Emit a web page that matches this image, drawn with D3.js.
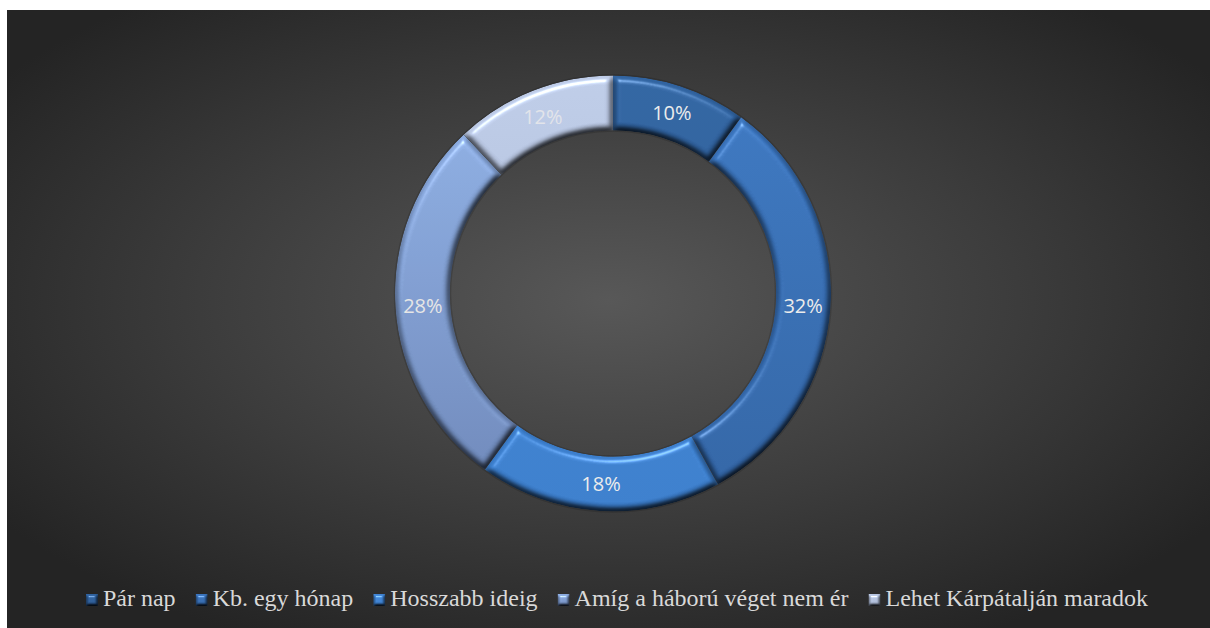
<!DOCTYPE html>
<html>
<head>
<meta charset="utf-8">
<script src="https://cdn.jsdelivr.net/npm/d3@7"></script>
<style>
  body { margin:0; background:#fff; }
  svg { display:block; }
</style>
</head>
<body>
<div id="chart"></div>
<script>
// adatok
var kategoriak = ["Pár nap", "Kb. egy hónap", "Hosszabb ideig", "Amíg a háború véget nem ér", "Lehet Kárpátalján maradok"]
var ertekek = [10, 32, 18, 28, 12]
var cimkek = ["10%", "32%", "18%", "28%", "12%"]

// szinek (felső / alsó árnyalat)
var szinFent = ["#3063a0", "#3b76c0", "#4186d6", "#90b1e6", "#bccae6"]
var szinLent = ["#2b5891", "#3062a2", "#3a7cca", "#6a84b5", "#a5b3cf"]
var cimkeSzin = ["#ececec", "#ececec", "#ececec", "#e6e6e6", "#e2e4ea"]

var W = 1210, H = 628
var cx = 613, cy = 293.5
var rKul = 218, rBel = 163

var svg = d3.select("#chart").append("svg")
  .attr("width", W).attr("height", H)

var defs = svg.append("defs")

// hatter gradiens
var bg = defs.append("radialGradient").attr("id", "hatter")
  .attr("cx", "0.5").attr("cy", "0.47").attr("r", "0.62")
bg.append("stop").attr("offset", "0").attr("stop-color", "#585858")
bg.append("stop").attr("offset", "0.55").attr("stop-color", "#3c3c3c")
bg.append("stop").attr("offset", "1").attr("stop-color", "#242424")

svg.append("rect")
  .attr("x", 7).attr("y", 10).attr("width", W - 7).attr("height", H - 10)
  .attr("fill", "url(#hatter)")

// bevel szuro
function bevel(id, blur, scale) {
  var f = defs.append("filter").attr("id", id)
    .attr("color-interpolation-filters", "sRGB")
    .attr("x", "-10%").attr("y", "-10%").attr("width", "120%").attr("height", "120%")
  f.append("feGaussianBlur").attr("in", "SourceAlpha").attr("stdDeviation", blur).attr("result", "blur")
  var dif = f.append("feDiffuseLighting").attr("in", "blur").attr("surfaceScale", scale)
    .attr("diffuseConstant", 1.12).attr("lighting-color", "#fff").attr("result", "dif")
  dif.append("feDistantLight").attr("azimuth", 255).attr("elevation", 62)
  var spec = f.append("feSpecularLighting").attr("in", "blur").attr("surfaceScale", scale)
    .attr("specularConstant", 0.7).attr("specularExponent", 35).attr("lighting-color", "#fff").attr("result", "spec")
  spec.append("feDistantLight").attr("azimuth", 255).attr("elevation", 45)
  f.append("feComposite").attr("in", "spec").attr("in2", "SourceAlpha").attr("operator", "in").attr("result", "specIn")
  f.append("feComposite").attr("in", "SourceGraphic").attr("in2", "dif").attr("operator", "arithmetic")
    .attr("k1", 1).attr("k2", 0).attr("k3", 0).attr("k4", 0).attr("result", "arny")
  f.append("feComposite").attr("in", "arny").attr("in2", "SourceAlpha").attr("operator", "in").attr("result", "arny2")
  f.append("feComposite").attr("in", "arny2").attr("in2", "specIn").attr("operator", "arithmetic")
    .attr("k1", 0).attr("k2", 1).attr("k3", 0.5).attr("k4", 0)
}
bevel("bevel", 3.2, 5)
bevel("bevelKicsi", 1.4, 3)

// gradiens szeletenkent (a g koordinataiban)
kategoriak.forEach(function(k, i) {
  var g = defs.append("linearGradient").attr("id", "szin" + i)
    .attr("gradientUnits", "userSpaceOnUse")
    .attr("x1", 0).attr("y1", -rKul).attr("x2", 0).attr("y2", rKul)
  g.append("stop").attr("offset", 0).attr("stop-color", szinFent[i])
  g.append("stop").attr("offset", 1).attr("stop-color", szinLent[i])
  var m = defs.append("linearGradient").attr("id", "jel" + i)
    .attr("x1", 0).attr("y1", 0).attr("x2", 0).attr("y2", 1)
  m.append("stop").attr("offset", 0).attr("stop-color", szinFent[i])
  m.append("stop").attr("offset", 1).attr("stop-color", szinLent[i])
})

var adat = kategoriak.map(function(k, i) { return { nev: k, ertek: ertekek[i], cimke: cimkek[i], i: i } })

var pie = d3.pie().value(function(d) { return d.ertek }).sort(null)
var arc = d3.arc().innerRadius(rBel).outerRadius(rKul)

var gFank = svg.append("g").attr("transform", "translate(" + cx + "," + cy + ")")

// halvany arnyek a gyuru korul
gFank.append("circle").attr("r", rKul + 0.5).attr("fill", "none")
  .attr("stroke", "rgba(0,0,0,0.15)").attr("stroke-width", 1.5)
gFank.append("circle").attr("r", rBel - 0.5).attr("fill", "none")
  .attr("stroke", "rgba(0,0,0,0.15)").attr("stroke-width", 1.5)

gFank.selectAll("path.szelet")
  .data(pie(adat))
  .enter()
  .append("path")
  .attr("class", "szelet")
  .attr("d", arc)
  .attr("fill", function(d) { return "url(#szin" + d.data.i + ")" })
  .attr("filter", "url(#bevel)")

gFank.selectAll("text.cimke")
  .data(pie(adat))
  .enter()
  .append("text")
  .attr("class", "cimke")
  .attr("transform", function(d) { return "translate(" + arc.centroid(d) + ")" })
  .attr("text-anchor", "middle")
  .attr("dy", "0.36em")
  .style("font-family", "'Open Sans', 'Noto Sans', sans-serif")
  .style("font-size", "20px")
  .style("fill", function(d) { return cimkeSzin[d.data.i] })
  .text(function(d) { return d.data.cimke })

// jelmagyarazat
var leg = svg.append("g")
var jelMeret = 12, resKoz = 5, elemKoz = 20
var elemek = leg.selectAll("g.elem")
  .data(adat)
  .enter()
  .append("g")
  .attr("class", "elem")
elemek.append("rect")
  .attr("width", jelMeret).attr("height", jelMeret)
  .attr("y", -jelMeret)
  .attr("fill", function(d) { return "url(#jel" + d.i + ")" })
  .attr("filter", "url(#bevelKicsi)")
elemek.append("text")
  .attr("x", jelMeret + resKoz)
  .style("font-family", "'Liberation Serif', 'Times New Roman', serif")
  .style("font-size", "24px")
  .style("fill", "#d9d9d9")
  .text(function(d) { return d.nev })

var x = 0
var szelessegek = []
elemek.each(function(d) {
  var w = jelMeret + resKoz + d3.select(this).select("text").node().getComputedTextLength()
  szelessegek.push(w)
})
var teljes = d3.sum(szelessegek) + elemKoz * (szelessegek.length - 1)
x = 617 - teljes / 2
elemek.attr("transform", function(d, i) {
  var t = "translate(" + x + ",606)"
  x += szelessegek[i] + elemKoz
  return t
})
</script>
</body>
</html>
